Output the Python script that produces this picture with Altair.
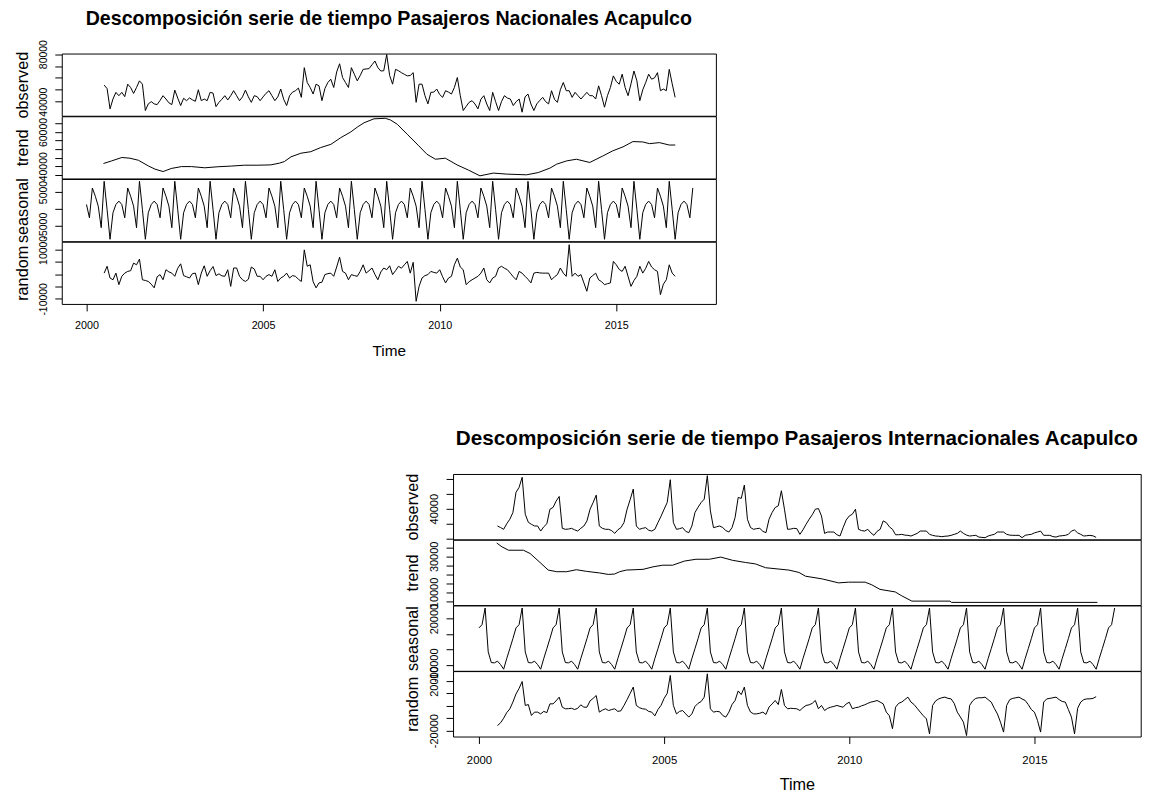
import altair as alt
import pandas as pd

FONT = "Liberation Sans"

# ---------------- Pasajeros Nacionales (values in thousands) ----------------
NAC_OBS_FIRST = 6  # month index counted from Jan 2000
NAC_OBS = [
    53.9, 51.0, 33.9, 42.2, 47.8, 45.0, 47.8, 44.2, 54.7, 51.9, 46.9, 51.9,
    57.5, 54.7, 32.5, 38.1, 40.0, 38.1, 37.5, 41.0, 45.0, 42.2, 39.0, 37.5,
    49.7, 43.0, 36.7, 42.8, 40.8, 43.1, 41.5, 40.3, 50.0, 40.8, 42.2, 40.8,
    47.8, 47.2, 35.8, 39.4, 42.0, 45.0, 41.4, 45.0, 49.2, 45.0, 40.8, 44.0,
    49.7, 44.0, 39.4, 45.0, 44.2, 40.8, 44.0, 47.0, 49.2, 45.0, 40.8, 44.0,
    50.6, 42.0, 36.7, 45.0, 48.0, 49.2, 51.4, 43.6, 68.6, 56.1, 51.9, 46.4,
    54.7, 53.3, 40.8, 51.0, 56.1, 58.9, 51.9, 65.0, 71.9, 60.3, 56.1, 51.9,
    68.6, 63.1, 57.5, 62.0, 67.2, 67.5, 67.8, 71.0, 74.2, 68.6, 65.8, 66.0,
    79.7, 62.0, 54.7, 67.2, 66.0, 64.4, 63.0, 61.7, 62.0, 64.4, 39.4, 54.7,
    54.7, 45.0, 38.1, 47.8, 48.0, 50.6, 46.0, 43.6, 49.2, 48.0, 46.4, 52.0,
    60.3, 45.0, 32.5, 36.0, 39.4, 40.8, 38.0, 33.9, 42.0, 45.0, 38.0, 32.5,
    47.8, 40.0, 32.5, 40.0, 45.0, 43.0, 42.2, 36.7, 40.0, 42.2, 31.1, 44.0,
    46.4, 38.0, 32.5, 38.1, 41.0, 43.6, 40.0, 38.1, 49.2, 42.0, 39.4, 50.0,
    56.1, 49.2, 49.2, 43.6, 47.8, 45.0, 42.2, 45.0, 47.8, 45.0, 45.0, 42.2,
    53.3, 45.0, 35.3, 45.0, 51.9, 61.7, 57.0, 54.7, 63.1, 52.0, 45.0, 55.0,
    65.8, 57.5, 40.8, 50.0, 56.1, 63.1, 58.9, 60.0, 64.4, 49.2, 50.6, 49.2,
    67.2, 55.0, 43.6,
]
NAC_TREND_T = [
    2000.48, 2000.71, 2001.0, 2001.23, 2001.47, 2001.75, 2001.94, 2002.17, 2002.4, 2002.69,
    2002.97, 2003.35, 2003.72, 2004.1, 2004.47, 2004.85, 2005.22, 2005.46, 2005.6, 2005.79,
    2006.07, 2006.35, 2006.63, 2006.92, 2007.2, 2007.48, 2007.67, 2007.86, 2008.14, 2008.46,
    2008.61, 2008.8, 2009.08, 2009.41, 2009.64, 2009.88, 2010.16, 2010.49, 2010.82, 2011.14,
    2011.52, 2011.9, 2012.46, 2012.79, 2013.12, 2013.31, 2013.59, 2013.87, 2014.25, 2014.62,
    2014.9, 2015.19, 2015.47, 2015.75, 2015.94, 2016.22, 2016.5, 2016.67,
]
NAC_TREND_V = [
    41.6, 43.1, 45.1, 44.7, 43.5, 40.2, 38.3, 36.9, 38.7, 39.8,
    39.8, 39.1, 39.7, 40.1, 40.6, 40.6, 40.8, 41.8, 42.7, 45.5,
    47.6, 48.5, 50.9, 52.8, 56.7, 60.0, 62.9, 65.4, 67.7, 68.0,
    67.0, 64.5, 58.7, 51.9, 47.0, 44.1, 44.7, 40.8, 37.7, 34.4,
    36.0, 35.4, 35.0, 36.3, 38.9, 41.2, 43.1, 44.1, 42.2, 46.0,
    49.0, 51.3, 54.4, 54.2, 53.2, 53.8, 52.4, 52.4,
]
NAC_SEAS_FIRST = 0
NAC_SEAS = [
    1.3, -2.65, 6.2, 3.75, 0.8, -5.6, 8.2, -0.2, -9.05, -1.15, 1.3, 2.3,
    1.3, -2.65, 6.2, 3.75, 0.8, -5.6, 8.2, -0.2, -9.05, -1.15, 1.3, 2.3,
    1.3, -2.65, 6.2, 3.75, 0.8, -5.6, 8.2, -0.2, -9.05, -1.15, 1.3, 2.3,
    1.3, -2.65, 6.2, 3.75, 0.8, -5.6, 8.2, -0.2, -9.05, -1.15, 1.3, 2.3,
    1.3, -2.65, 6.2, 3.75, 0.8, -5.6, 8.2, -0.2, -9.05, -1.15, 1.3, 2.3,
    1.3, -2.65, 6.2, 3.75, 0.8, -5.6, 8.2, -0.2, -9.05, -1.15, 1.3, 2.3,
    1.3, -2.65, 6.2, 3.75, 0.8, -5.6, 8.2, -0.2, -9.05, -1.15, 1.3, 2.3,
    1.3, -2.65, 6.2, 3.75, 0.8, -5.6, 8.2, -0.2, -9.05, -1.15, 1.3, 2.3,
    1.3, -2.65, 6.2, 3.75, 0.8, -5.6, 8.2, -0.2, -9.05, -1.15, 1.3, 2.3,
    1.3, -2.65, 6.2, 3.75, 0.8, -5.6, 8.2, -0.2, -9.05, -1.15, 1.3, 2.3,
    1.3, -2.65, 6.2, 3.75, 0.8, -5.6, 8.2, -0.2, -9.05, -1.15, 1.3, 2.3,
    1.3, -2.65, 6.2, 3.75, 0.8, -5.6, 8.2, -0.2, -9.05, -1.15, 1.3, 2.3,
    1.3, -2.65, 6.2, 3.75, 0.8, -5.6, 8.2, -0.2, -9.05, -1.15, 1.3, 2.3,
    1.3, -2.65, 6.2, 3.75, 0.8, -5.6, 8.2, -0.2, -9.05, -1.15, 1.3, 2.3,
    1.3, -2.65, 6.2, 3.75, 0.8, -5.6, 8.2, -0.2, -9.05, -1.15, 1.3, 2.3,
    1.3, -2.65, 6.2, 3.75, 0.8, -5.6, 8.2, -0.2, -9.05, -1.15, 1.3, 2.3,
    1.3, -2.65, 6.2, 3.75, 0.8, -5.6, 8.2, -0.2, -9.05, -1.15, 1.3, 2.3,
    1.3, -2.65, 6.2,
]
NAC_RAND_FIRST = 6
NAC_RAND = [
    0.5, 3.3, -1.5, -2.2, 0.5, -4.2, -0.8, 0.5, 1.2, 1.5, 4.6, 3.9,
    6.2, -2.2, -2.5, -2.9, -4.0, -5.5, -1.0, -0.1, -2.2, 1.9, 1.0, 0.5,
    -0.8, 2.5, 4.3, -0.5, -1.0, -1.5, 0.3, 0.5, -4.2, 0.5, 3.5, -0.8,
    1.5, 3.2, -0.5, 0.2, -0.6, -0.8, 1.9, -4.9, 2.6, 2.6, -0.8, -2.2,
    -2.9, -2.0, 3.0, 2.2, -0.8, -0.8, -2.2, -0.8, -0.1, -0.8, 1.9, -2.9,
    -1.5, -0.8, 0.5, -1.5, -0.5, -0.8, -2.0, -2.9, 10.0, 3.3, 3.9, -3.0,
    -5.5, -3.5, -3.2, -0.1, 0.3, 0.5, -0.8, 3.0, 7.0, 1.2, 0.5, -2.2,
    -0.1, -0.5, -0.8, 1.2, 3.9, 0.5, 1.5, 2.6, 0.0, -2.2, 1.0, 2.6,
    1.9, 3.5, -0.1, 1.5, 3.3, 2.5, 3.9, 5.3, 0.5, 4.9, -11.0, -4.9,
    -1.5, -0.5, -0.1, 1.2, 0.8, 0.5, 1.9, -1.0, -3.5, -1.5, -0.8, 3.9,
    6.6, 3.0, 1.9, -4.2, -3.0, -2.2, -1.5, -0.8, 0.5, 2.6, -2.2, -3.5,
    -1.5, -0.8, 2.6, 3.3, 2.5, 1.9, 0.5, -1.0, -2.2, 1.2, 0.5, -0.8,
    -2.0, -3.5, 0.5, 0.8, 0.6, 0.5, 0.5, 0.5, -2.2, -1.0, -0.1, 2.6,
    0.5, -0.8, 12.1, -0.8, 0.5, -0.8, -0.1, -3.5, -6.9, -1.5, -0.5, 0.5,
    -2.2, -3.0, -4.2, -3.8, -3.5, 5.3, 3.9, 2.0, 1.2, 3.3, -0.8, -4.9,
    -2.5, -0.8, 3.3, 0.5, 2.5, 5.3, 3.0, 1.9, 1.2, -8.3, -4.0, -2.2,
    3.9, 0.5, -0.8,
]

# ---------------- Pasajeros Internacionales (values in thousands) ----------------
INT_OBS_FIRST = 6
INT_OBS = [
    17.1, 15.0, 12.7, 20.0, 26.0, 34.9, 61.6, 68.2, 81.6, 32.7, 22.0, 19.3,
    17.1, 17.1, 10.4, 16.0, 20.0, 39.3, 41.6, 50.0, 56.2, 14.0, 12.7, 13.0,
    14.0, 12.0, 10.4, 14.0, 17.1, 23.8, 39.3, 48.2, 58.0, 17.1, 14.0, 12.7,
    12.7, 11.0, 7.3, 12.0, 14.9, 21.6, 39.3, 52.0, 66.0, 17.1, 12.7, 14.0,
    14.9, 11.5, 10.4, 12.7, 21.6, 30.0, 39.3, 48.2, 78.4, 21.6, 12.7, 13.5,
    14.9, 10.0, 8.2, 17.1, 34.9, 42.0, 48.2, 52.7, 83.8, 37.1, 14.9, 16.0,
    17.1, 15.0, 11.0, 9.1, 14.9, 28.2, 54.9, 53.6, 71.3, 26.0, 15.0, 12.7,
    13.6, 14.0, 10.0, 8.2, 26.0, 35.0, 41.6, 43.8, 63.8, 39.3, 12.7, 13.0,
    14.0, 13.6, 6.0, 12.0, 19.3, 26.0, 32.0, 39.3, 40.2, 30.4, 7.3, 9.1,
    9.1, 9.1, 5.5, 3.8, 14.9, 25.0, 30.4, 32.7, 39.3, 12.7, 11.0, 10.4,
    12.7, 8.0, 4.7, 10.0, 12.7, 23.8, 21.6, 16.0, 12.7, 5.5, 5.5, 6.0,
    5.0, 4.7, 3.8, 5.5, 7.3, 10.4, 10.4, 10.4, 6.0, 4.7, 3.8, 3.5,
    2.9, 3.5, 3.8, 4.7, 6.0, 7.3, 10.4, 7.3, 5.0, 3.8, 4.3, 4.7,
    2.4, 2.0, 1.6, 3.8, 5.0, 6.0, 9.1, 9.1, 9.1, 6.0, 5.0, 4.7,
    4.7, 4.7, 1.6, 4.7, 5.5, 6.0, 8.0, 9.1, 10.4, 4.7, 4.7, 4.7,
    3.0, 2.4, 3.8, 4.2, 4.7, 6.0, 10.4, 11.8, 8.0, 6.0, 3.8, 4.2,
    4.7, 4.0, 2.0,
]
INT_TREND_T = [
    2000.48, 2000.62, 2000.8, 2001.2, 2001.38, 2001.65, 2001.87, 2002.1, 2002.37, 2002.63,
    2002.9, 2003.26, 2003.49, 2003.66, 2003.8, 2003.98, 2004.43, 2004.7, 2004.96, 2005.23,
    2005.55, 2005.86, 2006.22, 2006.53, 2006.85, 2007.2, 2007.47, 2007.74, 2008.37, 2008.64,
    2008.82, 2009.27, 2009.71, 2009.98, 2010.43, 2010.61, 2010.83, 2011.24, 2011.42, 2011.69,
    2012.72, 2012.76, 2016.7,
]
INT_TREND_V = [
    37.4, 35.3, 33.4, 33.4, 31.6, 26.6, 22.4, 21.5, 21.5, 22.6,
    21.7, 20.8, 20.0, 20.2, 21.5, 22.4, 22.8, 24.2, 25.1, 25.1,
    27.4, 28.4, 28.4, 29.6, 27.8, 26.6, 25.8, 23.7, 22.4, 21.1,
    19.0, 17.5, 15.3, 15.7, 15.7, 14.2, 11.7, 10.3, 8.1, 5.2,
    5.2, 4.5, 4.5,
]
INT_SEAS_FIRST = 0
INT_SEAS = [
    14.0, 16.1, 26.9, -1.5, -8.4, -8.6, -7.5, -9.7, -12.7, -5.8, 0.6, 7.1,
    14.0, 16.1, 26.9, -1.5, -8.4, -8.6, -7.5, -9.7, -12.7, -5.8, 0.6, 7.1,
    14.0, 16.1, 26.9, -1.5, -8.4, -8.6, -7.5, -9.7, -12.7, -5.8, 0.6, 7.1,
    14.0, 16.1, 26.9, -1.5, -8.4, -8.6, -7.5, -9.7, -12.7, -5.8, 0.6, 7.1,
    14.0, 16.1, 26.9, -1.5, -8.4, -8.6, -7.5, -9.7, -12.7, -5.8, 0.6, 7.1,
    14.0, 16.1, 26.9, -1.5, -8.4, -8.6, -7.5, -9.7, -12.7, -5.8, 0.6, 7.1,
    14.0, 16.1, 26.9, -1.5, -8.4, -8.6, -7.5, -9.7, -12.7, -5.8, 0.6, 7.1,
    14.0, 16.1, 26.9, -1.5, -8.4, -8.6, -7.5, -9.7, -12.7, -5.8, 0.6, 7.1,
    14.0, 16.1, 26.9, -1.5, -8.4, -8.6, -7.5, -9.7, -12.7, -5.8, 0.6, 7.1,
    14.0, 16.1, 26.9, -1.5, -8.4, -8.6, -7.5, -9.7, -12.7, -5.8, 0.6, 7.1,
    14.0, 16.1, 26.9, -1.5, -8.4, -8.6, -7.5, -9.7, -12.7, -5.8, 0.6, 7.1,
    14.0, 16.1, 26.9, -1.5, -8.4, -8.6, -7.5, -9.7, -12.7, -5.8, 0.6, 7.1,
    14.0, 16.1, 26.9, -1.5, -8.4, -8.6, -7.5, -9.7, -12.7, -5.8, 0.6, 7.1,
    14.0, 16.1, 26.9, -1.5, -8.4, -8.6, -7.5, -9.7, -12.7, -5.8, 0.6, 7.1,
    14.0, 16.1, 26.9, -1.5, -8.4, -8.6, -7.5, -9.7, -12.7, -5.8, 0.6, 7.1,
    14.0, 16.1, 26.9, -1.5, -8.4, -8.6, -7.5, -9.7, -12.7, -5.8, 0.6, 7.1,
    14.0, 16.1, 26.9, -1.5, -8.4, -8.6, -7.5, -9.7, -12.7, -5.8, 0.6, 7.1,
    14.0, 16.1, 26.9,
]
INT_RAND_FIRST = 6
INT_RAND = [
    -15.9, -13.7, -10.0, -5.5, -2.5, 3.0, 9.5, 14.0, 19.6, 0.3, 1.0, -7.8,
    -5.1, -5.1, -6.5, -4.5, -5.5, 1.6, 1.6, 4.0, 7.0, -1.1, -2.4, -2.3,
    -2.0, -3.0, -2.0, 0.8, -1.1, -1.1, 4.0, 6.0, 8.3, -5.1, -3.5, -2.4,
    -3.8, -3.0, -2.4, -4.5, -4.0, 0.3, 5.0, 10.0, 15.1, 0.3, -1.5, -2.4,
    -2.7, -4.5, -5.1, -8.1, -3.0, 0.3, 6.0, 10.0, 24.5, 0.3, -6.5, -4.5,
    -3.8, -6.5, -9.1, -6.5, -0.5, 2.0, 3.5, 7.0, 25.8, -2.4, -5.1, -4.5,
    -4.8, -7.8, -9.1, -5.1, 1.0, 4.3, 12.0, 9.0, 15.1, 0.3, -5.0, -6.5,
    -6.5, -6.0, -5.1, -7.0, -1.0, 1.5, 4.3, 1.0, 13.2, 0.3, -2.4, -2.0,
    -2.2, -2.4, -3.8, -1.5, 0.3, 0.8, 2.0, 4.3, -2.4, 0.3, -3.8, -2.0,
    -1.1, -0.5, 0.3, -0.5, -1.1, 1.5, 2.9, -2.4, -1.5, -1.1, 0.0, 0.8,
    2.0, 3.0, 3.5, 4.3, 3.0, 1.6, -5.1, -8.0, -18.5, -1.1, 2.0, 3.0,
    5.0, 7.0, 3.0, 1.0, -2.0, -5.1, -8.0, -10.5, -22.6, 0.3, 4.0, 5.6,
    6.5, 7.0, 6.0, 5.6, 2.0, -5.1, -9.0, -13.2, -24.0, 0.3, 4.0, 6.0,
    6.5, 6.5, 7.0, 5.0, 3.0, -2.0, -6.5, -13.2, -21.2, 0.3, 5.0, 6.0,
    6.5, 7.0, 5.5, 4.3, 1.0, -3.0, -5.1, -11.8, -21.2, 3.0, 5.6, 6.0,
    6.5, 7.0, 5.0, 3.5, 3.0, -3.0, -9.1, -22.6, -2.0, 3.0, 5.0, 5.6,
    5.6, 6.0, 7.4,
]

# ---------------- axis settings (thousands) ----------------
NAC_AXES = {
    "observed": ([28.1, 80.5], [40, 50, 60, 70, 80], [40, 80]),
    "trend": ([32.85, 69.2], [35, 40, 45, 50, 55, 60, 65], [40, 60]),
    "seasonal": ([-9.62, 8.88], [-5, 0, 5], [-5, 5]),
    "random": ([-12.07, 13.33], [-10, -5, 0, 5, 10], [-10, 10]),
}
INT_AXES = {
    "observed": ([-0.67, 86.0], [0, 20, 40, 60, 80], [40]),
    "trend": ([2.99, 39.24], [5, 10, 15, 20, 25, 30, 35], [10, 30]),
    "seasonal": ([-13.74, 28.58], [-10, 0, 10, 20], [-10, 20]),
    "random": ([-24.76, 27.98], [-20, -10, 0, 10, 20], [-20, 20]),
}
X_TICKS = [2000, 2005, 2010, 2015]


def monthly(first, values):
    return pd.DataFrame({"t": [2000 + (first + i) / 12 for i in range(len(values))], "v": values})


def pairs(ts, vs):
    return pd.DataFrame({"t": ts, "v": vs})


def ylab_expr(labels):
    arr = "[" + ",".join(str(x) for x in labels) + "]"
    return f"indexof({arr}, datum.value) >= 0 ? '' + round(datum.value * 1000) : ''"


def panel(df, name, axes, st, bottom=False, title=None):
    ydom, yvals, ylabs = axes[name]
    h = st["h"]
    yaxis = alt.Axis(
        values=yvals, labelExpr=ylab_expr(ylabs), title=name,
        titleX=st["ytitle_x"], titleY=h / 2, titleAngle=270, titleAlign="center",
        titleBaseline="alphabetic", titleFont=FONT, titleFontSize=st["ytitle_size"],
        titleFontWeight="normal", titleColor="black",
        labelAngle=270, labelAlign="center", labelBaseline="alphabetic",
        labelPadding=st["ylab_pad"], labelFont=FONT, labelFontSize=st["ylab_size"],
        labelColor="black", labelOverlap=False, labelFlush=False, labelBound=False,
        tickColor="black", tickSize=7, tickWidth=1, domain=False, grid=False,
    )
    if bottom:
        xaxis = alt.Axis(
            values=X_TICKS, format="d", title="Time", titleFont=FONT,
            titleFontSize=st["time_size"], titleFontWeight="normal", titleColor="black",
            titleY=st["time_y"], titleBaseline="alphabetic",
            labelFont=FONT, labelFontSize=st["xlab_size"], labelColor="black",
            labelBaseline="alphabetic", labelPadding=st["xlab_pad"],
            labelOverlap=False, labelFlush=False,
            tickColor="black", tickSize=7, tickWidth=1, domain=False, grid=False,
        )
    else:
        xaxis = None
    ch = alt.Chart(df).mark_line(color="black", strokeWidth=1).encode(
        x=alt.X("t:Q", scale=alt.Scale(domain=st["xdom"], nice=False, zero=False), axis=xaxis),
        y=alt.Y("v:Q", scale=alt.Scale(domain=ydom, nice=False, zero=False), axis=yaxis),
    ).properties(width=st["w"], height=h)
    if title is not None:
        ch = ch.properties(title=alt.Title(
            title, font=FONT, fontSize=st["title_size"], fontWeight="bold", color="black",
            anchor="middle", frame="group", baseline="bottom", offset=st["title_off"],
        ))
    return ch


def block(obs, trend, seas, rand, axes, st, title):
    return alt.vconcat(
        panel(obs, "observed", axes, st, title=title),
        panel(trend, "trend", axes, st),
        panel(seas, "seasonal", axes, st),
        panel(rand, "random", axes, st, bottom=True),
        spacing=0, bounds="flush",
    ).resolve_scale(x="independent", y="independent")


ST1 = dict(w=657, h=62.5, xdom=[1999.30, 2017.82], ytitle_x=-34, ytitle_size=16.3,
           ylab_pad=8, ylab_size=10.5, xlab_size=10.8, xlab_pad=18, time_size=15.4,
           time_y=52, title_size=19.7, title_off=-9.4)
ST2 = dict(w=690.7, h=65.7, xdom=[1999.30, 2017.87], ytitle_x=-36, ytitle_size=16.3,
           ylab_pad=9, ylab_size=11, xlab_size=11.4, xlab_pad=20, time_size=16.3,
           time_y=53, title_size=20.8, title_off=4)

block1 = block(monthly(NAC_OBS_FIRST, NAC_OBS), pairs(NAC_TREND_T, NAC_TREND_V),
               monthly(NAC_SEAS_FIRST, NAC_SEAS), monthly(NAC_RAND_FIRST, NAC_RAND),
               NAC_AXES, ST1, "Descomposición serie de tiempo Pasajeros Nacionales Acapulco")
block2 = block(monthly(INT_OBS_FIRST, INT_OBS), pairs(INT_TREND_T, INT_TREND_V),
               monthly(INT_SEAS_FIRST, INT_SEAS), monthly(INT_RAND_FIRST, INT_RAND),
               INT_AXES, ST2, "Descomposición serie de tiempo Pasajeros Internacionales Acapulco")

spacer = alt.Chart(pd.DataFrame({"s": [0]})).mark_point(opacity=0).encode(
    x=alt.X("s:Q", axis=None), y=alt.Y("s:Q", axis=None),
).properties(width=392.7, height=10, view=alt.ViewBackground(stroke="transparent"))

row2 = alt.hconcat(spacer, block2, spacing=0, bounds="flush").resolve_scale(
    x="independent", y="independent")

chart = alt.vconcat(block1, row2, spacing=422.3, bounds="flush").resolve_scale(
    x="independent", y="independent"
).properties(
    padding={"left": 6, "top": -1, "right": 0, "bottom": 0},
).configure_view(stroke="black", strokeWidth=1)

chart.save("out.html", embed_options={"renderer": "svg", "actions": False})
